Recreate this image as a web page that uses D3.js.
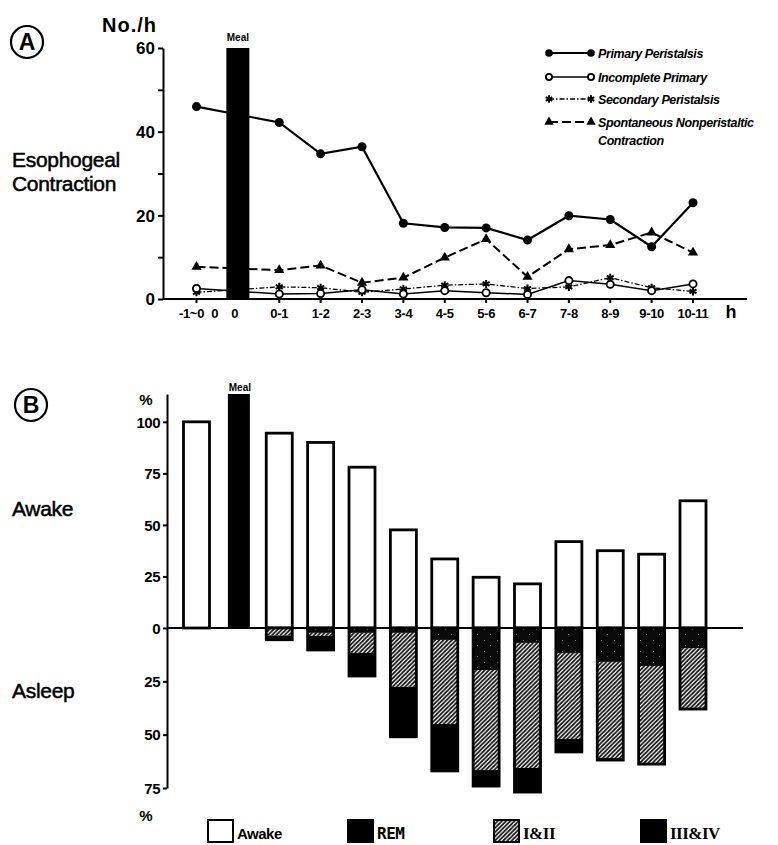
<!DOCTYPE html>
<html>
<head>
<meta charset="utf-8">
<script src="https://cdn.jsdelivr.net/npm/d3@7"></script>
<style>
  html, body { margin: 0; padding: 0; background: #fff; }
  svg { display: block; }
</style>
</head>
<body>
<svg id="chart" width="778" height="845"></svg>
<script>
// ---------- DATA ----------
const hourCats = ["-1~0","0-1","1-2","2-3","3-4","4-5","5-6","6-7","7-8","8-9","9-10","10-11"];
const mealLabel = "Meal";
const mealZeroLabels = ["0","0"];

// Panel A: esophageal contractions (No./h)
const primary     = [46, 42.2, 34.7, 36.4, 18.1, 17.1, 17.0, 14.1, 19.9, 19.0, 12.5, 23.0];
const incomplete  = [2.5, 1.2, 1.3, 2.2, 1.2, 2.0, 1.5, 1.1, 4.4, 3.5, 2.0, 3.6];
const secondary   = [1.6, 2.9, 2.7, 1.6, 2.4, 3.3, 3.6, 2.5, 2.9, 5.1, 2.7, 1.8];
const spontaneous = [7.7, 6.9, 8.0, 3.9, 5.1, 9.9, 14.3, 5.3, 11.9, 12.9, 15.9, 11.1];
const seriesNamesA = ["Primary Peristalsis","Incomplete Primary","Secondary Peristalsis","Spontaneous Nonperistaltic"];
const yTicksA = [0,10,20,30,40,50,60];

// Panel B: sleep stages (%)
const awake = [100, 94.5, 90, 78, 47.6, 33.5, 24.6, 21.4, 41.9, 37.5, 35.8, 61.7];
const rem   = [0, 0.5, 2.3, 2.3, 2.3, 5.6, 19.7, 7.0, 11.7, 15.9, 17.8, 9.4];
const st12  = [0, 3.0, 1.4, 9.4, 25.3, 39.4, 46.9, 58.6, 40.3, 45.0, 45.5, 28.6];
const st34  = [0, 2.0, 6.6, 10.8, 23.4, 22.0, 7.5, 11.3, 6.1, 1.0, 0.5, 0];
const stageNames = ["Awake","REM","I&II","III&IV"];
const yTicksB = [100,75,50,25,0,-25,-50,-75];

// ---------- DRAW ----------
const svg = d3.select("#chart");
svg.append("rect").attr("width",778).attr("height",845).attr("fill","#fff");

const defs = svg.append("defs");
const hatch = defs.append("pattern").attr("id","hatch").attr("patternUnits","userSpaceOnUse")
  .attr("width",4.2).attr("height",4.2);
hatch.append("rect").attr("width",4.2).attr("height",4.2).attr("fill","#fff");
hatch.append("path").attr("d","M0,4.2 L4.2,0 M-1,1 L1,-1 M3.2,5.2 L5.2,3.2")
  .attr("stroke","#111").attr("stroke-width",1.7);
const remP = defs.append("pattern").attr("id","rem").attr("patternUnits","userSpaceOnUse")
  .attr("width",13).attr("height",11);
remP.append("rect").attr("width",13).attr("height",11).attr("fill","#0a0a0a");
remP.append("rect").attr("x",3).attr("y",2).attr("width",1).attr("height",1).attr("fill","#777");
remP.append("rect").attr("x",9).attr("y",7).attr("width",1).attr("height",1).attr("fill","#666");

const slotCats = [hourCats[0], mealLabel, ...hourCats.slice(1)];
const x = d3.scalePoint().domain(slotCats).range([196.5, 693]);

const boldFont = "'Liberation Sans', Arial, sans-serif";

// ===== Panel A =====
const yA = d3.scaleLinear().domain([0,60]).range([299,48]);
const axisLeftX = 163;

// circled A
svg.append("circle").attr("cx",27).attr("cy",42).attr("r",16).attr("fill","none").attr("stroke","#000").attr("stroke-width",2.2);
svg.append("text").attr("x",27).attr("y",50).attr("text-anchor","middle")
  .attr("font-family",boldFont).attr("font-weight","bold").attr("font-size",23).text("A");

svg.append("text").attr("x",102).attr("y",32).attr("font-family",boldFont).attr("font-weight","bold")
  .attr("font-size",20).attr("letter-spacing",1).text("No./h");

svg.append("text").attr("x",12).attr("y",167).attr("font-family",boldFont)
  .attr("font-size",21).attr("letter-spacing",-0.3).attr("stroke","#000").attr("stroke-width",0.5).text("Esophogeal");
svg.append("text").attr("x",12).attr("y",191).attr("font-family",boldFont)
  .attr("font-size",21).attr("letter-spacing",-0.3).attr("stroke","#000").attr("stroke-width",0.5).text("Contraction");

// y axis A
const gA = svg.append("g").attr("transform",`translate(${axisLeftX},0)`)
  .call(d3.axisLeft(yA).tickValues(yTicksA).tickSize(5).tickSizeOuter(0).tickPadding(3)
    .tickFormat(d => d % 20 === 0 ? d : ""));
gA.selectAll("path,line").attr("stroke","#000").attr("stroke-width",2);
gA.selectAll("text").attr("font-family",boldFont).attr("font-weight","bold").attr("font-size",17).attr("dy","0.35em");

// x axis A
svg.append("line").attr("x1",axisLeftX).attr("x2",747).attr("y1",yA(0)).attr("y2",yA(0)).attr("stroke","#000").attr("stroke-width",2.2);
svg.selectAll(".tickA").data(hourCats).enter().append("line")
  .attr("x1",d=>x(d)).attr("x2",d=>x(d)).attr("y1",yA(0)).attr("y2",yA(0)+4).attr("stroke","#000").attr("stroke-width",2);
svg.selectAll(".xlabA").data(hourCats).enter().append("text")
  .attr("x",(d,i)=> i===0 ? x(d)-5 : x(d)).attr("y",318).attr("text-anchor","middle")
  .attr("font-family",boldFont).attr("font-weight","bold").attr("font-size",13).attr("letter-spacing",-0.3).text(d=>d);
svg.selectAll(".xlabA0").data(mealZeroLabels).enter().append("text")
  .attr("x",(d,i)=> x(mealLabel) + (i===0 ? -23 : -3)).attr("y",318).attr("text-anchor","middle")
  .attr("font-family",boldFont).attr("font-weight","bold").attr("font-size",13).text(d=>d);
svg.append("text").attr("x",731).attr("y",318).attr("text-anchor","middle")
  .attr("font-family",boldFont).attr("font-weight","bold").attr("font-size",18).text("h");

// lines A
const lineGen = d3.line().x((d,i)=>x(hourCats[i])).y(d=>yA(d));
const seriesA = [
  {name:seriesNamesA[0], vals:primary, w:2.2, dash:null, marker:"fcircle"},
  {name:seriesNamesA[1], vals:incomplete, w:1.5, dash:null, marker:"ocircle"},
  {name:seriesNamesA[2], vals:secondary, w:1.3, dash:"5,2,1.5,2", marker:"ast"},
  {name:seriesNamesA[3], vals:spontaneous, w:2, dash:"9,4", marker:"tri"}
];
function drawMarker(g, type, cx, cy, scale) {
  const s = scale || 1;
  if (type === "fcircle") g.append("circle").attr("cx",cx).attr("cy",cy).attr("r",4.5*s).attr("fill","#000");
  else if (type === "ocircle") g.append("circle").attr("cx",cx).attr("cy",cy).attr("r",3.6*s).attr("fill","#fff").attr("stroke","#000").attr("stroke-width",1.8);
  else if (type === "ast") g.append("path").attr("d",d3.symbol(d3.symbolAsterisk, 45*s)()).attr("transform",`translate(${cx},${cy})`).attr("fill","none").attr("stroke","#000").attr("stroke-width",2);
  else if (type === "tri") g.append("path").attr("d",d3.symbol(d3.symbolTriangle, 45*s)()).attr("transform",`translate(${cx},${cy})`).attr("fill","#000");
}
const order = [3,2,1,0];
order.forEach(k => {
  const s = seriesA[k];
  const g = svg.append("g");
  g.append("path").attr("d",lineGen(s.vals)).attr("fill","none").attr("stroke","#000")
    .attr("stroke-width",s.w).attr("stroke-dasharray",s.dash);
  s.vals.forEach((v,i)=>drawMarker(g, s.marker, x(hourCats[i]), yA(v)));
});
// meal bar A (covers lines)
svg.append("rect").attr("x",x(mealLabel)-11.5).attr("y",yA(60)).attr("width",23).attr("height",yA(0)-yA(60)).attr("fill","#000");
svg.append("text").attr("x",x(mealLabel)).attr("y",yA(60)-7).attr("text-anchor","middle")
  .attr("font-family","'Liberation Sans Narrow', "+boldFont).attr("font-weight","bold").attr("font-size",10).text(mealLabel);

// legend A
const legA = svg.append("g");
const legRows = [53,77,99,122];
seriesA.forEach((s,i)=>{
  const yy = legRows[i];
  legA.append("line").attr("x1",549).attr("x2",591).attr("y1",yy).attr("y2",yy).attr("stroke","#000")
    .attr("stroke-width",Math.min(s.w,1.8)).attr("stroke-dasharray",s.dash);
  drawMarker(legA, s.marker, 549, yy, 0.85);
  drawMarker(legA, s.marker, 591, yy, 0.85);
  legA.append("text").attr("x",598).attr("y",yy+4.5).attr("font-family",boldFont).attr("font-weight","bold")
    .attr("font-style","italic").attr("font-size",12.5).attr("letter-spacing",-0.4).text(s.name);
});
legA.append("text").attr("x",598).attr("y",145).attr("font-family",boldFont).attr("font-weight","bold")
  .attr("font-style","italic").attr("font-size",12.5).attr("letter-spacing",-0.4).text("Contraction");

// ===== Panel B =====
const yB = d3.scaleLinear().domain([-75,0,113.5]).range([788,628,394]);
const bw = 26;

svg.append("circle").attr("cx",31).attr("cy",405).attr("r",16).attr("fill","none").attr("stroke","#000").attr("stroke-width",2.2);
svg.append("text").attr("x",31).attr("y",413).attr("text-anchor","middle")
  .attr("font-family",boldFont).attr("font-weight","bold").attr("font-size",23).text("B");

svg.append("text").attr("x",12).attr("y",516).attr("font-family",boldFont)
  .attr("font-size",21).attr("letter-spacing",-0.3).attr("stroke","#000").attr("stroke-width",0.5).text("Awake");
svg.append("text").attr("x",12).attr("y",698).attr("font-family",boldFont)
  .attr("font-size",21).attr("letter-spacing",-0.3).attr("stroke","#000").attr("stroke-width",0.5).text("Asleep");

svg.append("text").attr("x",146).attr("y",405).attr("text-anchor","middle").attr("font-family",boldFont)
  .attr("font-weight","bold").attr("font-size",15).text("%");
svg.append("text").attr("x",146).attr("y",821).attr("text-anchor","middle").attr("font-family",boldFont)
  .attr("font-weight","bold").attr("font-size",15).text("%");

// meal bar B
svg.append("rect").attr("x",x(mealLabel)+1-11).attr("y",yB(113.5)).attr("width",22).attr("height",yB(0)-yB(113.5)).attr("fill","#000");
svg.append("text").attr("x",x(mealLabel)+2).attr("y",yB(113.5)-3).attr("text-anchor","middle")
  .attr("font-family","'Liberation Sans Narrow', "+boldFont).attr("font-weight","bold").attr("font-size",10).text(mealLabel);

// awake bars
svg.selectAll(".awake").data(awake).enter().append("rect")
  .attr("x",(d,i)=>x(hourCats[i])-bw/2).attr("y",d=>yB(d)).attr("width",bw).attr("height",d=>yB(0)-yB(d))
  .attr("fill","#fff").attr("stroke","#000").attr("stroke-width",2.8);

// asleep stacked bars
hourCats.forEach((c,i)=>{
  const segs = [{v:rem[i], fill:"url(#rem)"},{v:st12[i], fill:"url(#hatch)"},{v:st34[i], fill:"#000"}];
  let cum = 0;
  const g = svg.append("g");
  segs.forEach(s=>{
    if (s.v <= 0) return;
    g.append("rect").attr("x",x(c)-bw/2).attr("y",yB(-cum)).attr("width",bw).attr("height",yB(-(cum+s.v))-yB(-cum))
      .attr("fill",s.fill);
    cum += s.v;
  });
  if (cum > 0) g.append("rect").attr("x",x(c)-bw/2).attr("y",yB(0)).attr("width",bw).attr("height",yB(-cum)-yB(0))
    .attr("fill","none").attr("stroke","#000").attr("stroke-width",2.8);
});

// y axis B
const gB = svg.append("g").attr("transform","translate(167,0)")
  .call(d3.axisLeft(yB).tickValues(yTicksB).tickSize(4).tickSizeOuter(0).tickPadding(3).tickFormat(d=>Math.abs(d)));
gB.selectAll("path,line").attr("stroke","#000").attr("stroke-width",2);
gB.selectAll("text").attr("font-family",boldFont).attr("font-weight","bold").attr("font-size",15).attr("letter-spacing",-0.5).attr("dy","0.35em");

// zero line B
svg.append("line").attr("x1",167).attr("x2",743).attr("y1",yB(0)).attr("y2",yB(0)).attr("stroke","#000").attr("stroke-width",2);

// legend B
const legB = [
  {name:stageNames[0], x:208, fill:"#fff", font:"'Liberation Sans Narrow', "+boldFont, size:15},
  {name:stageNames[1], x:348, fill:"#000", font:"'DejaVu Sans Mono', monospace", size:16},
  {name:stageNames[2], x:494, fill:"url(#hatch)", font:"'Liberation Serif', serif", size:17},
  {name:stageNames[3], x:641, fill:"#000", font:"'Liberation Serif', serif", size:17}
];
legB.forEach(l=>{
  svg.append("rect").attr("x",l.x).attr("y",820).attr("width",25).attr("height",22).attr("fill",l.fill)
    .attr("stroke","#000").attr("stroke-width",2);
  svg.append("text").attr("x",l.x+29).attr("y",839).attr("font-family",l.font).attr("font-weight","bold")
    .attr("font-size",l.size).attr("letter-spacing",-0.5).text(l.name);
});
</script>
</body>
</html>
